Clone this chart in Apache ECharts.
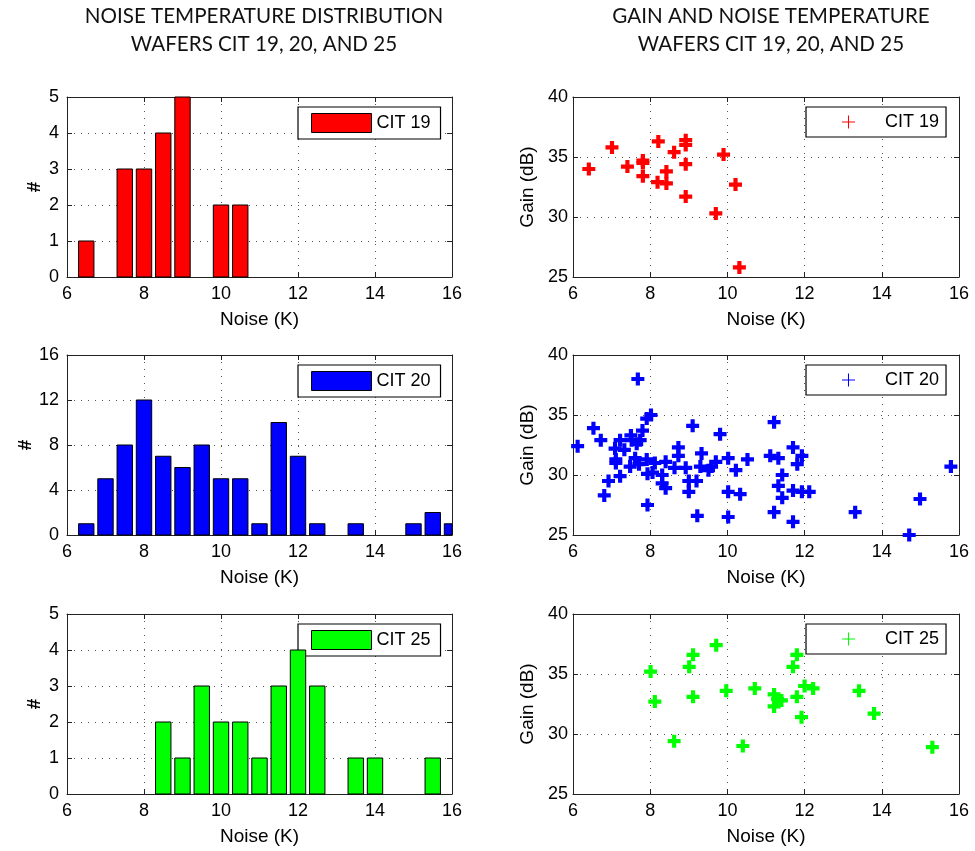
<!DOCTYPE html>
<html>
<head>
<meta charset="utf-8">
<script src="https://cdn.jsdelivr.net/npm/echarts@6/dist/echarts.min.js"></script>
<style>
  html, body { margin: 0; padding: 0; background: #fff; }
  #chart { width: 975px; height: 851px; }
</style>
</head>
<body>
<div id="chart"></div>
<script>
// histogram bin centres (K)
const binCenters = [6.5, 7, 7.5, 8, 8.5, 9, 9.5, 10, 10.5, 11, 11.5, 12, 12.5, 13, 13.5, 14, 14.5, 15, 15.5, 16];
const cit19Counts = [1, 0, 3, 3, 4, 5, 0, 2, 2, 0, 0, 0, 0, 0, 0, 0, 0, 0, 0, 0];
const cit20Counts = [1, 5, 8, 12, 7, 6, 8, 5, 5, 1, 10, 7, 1, 0, 1, 0, 0, 1, 2, 1];
const cit25Counts = [0, 0, 0, 0, 2, 1, 3, 2, 2, 1, 3, 4, 3, 0, 1, 1, 0, 0, 1, 0];
const barHalfWidth = 0.2; // K

// gain vs noise points
const cit19Noise = [6.41, 7.01, 7.41, 7.81, 7.81, 7.81, 8.21, 8.19, 8.42, 8.42, 8.62, 8.92, 8.92, 8.92, 8.92, 9.90, 9.70, 10.21, 10.31];
const cit19Gain  = [34.0, 35.8, 34.2, 34.7, 34.5, 33.4, 36.3, 32.9, 33.8, 32.8, 35.4, 36.4, 36.0, 34.4, 31.7, 35.2, 30.3, 32.7, 25.8];

const cit20Noise = [6.12, 6.53, 6.72, 6.81, 6.92, 7.22, 7.22, 7.09, 7.33, 7.11, 7.11, 7.48, 7.50, 7.52, 7.80, 7.65, 7.74, 7.61, 7.71, 7.91,
  7.91, 8.02, 7.93, 8.06, 7.93, 8.12, 8.31, 8.31, 8.40, 8.40, 8.63, 8.73, 8.73, 8.92, 9.0, 9.0, 9.10, 7.68,
  9.81, 9.33, 9.30, 9.20, 9.22, 9.51, 9.59, 9.70, 10.02, 10.02, 10.02, 10.22, 10.33, 10.52, 11.11, 11.21, 11.32, 11.42,
  11.32, 11.42, 11.21, 11.70, 11.93, 11.81, 11.70, 11.93, 12.12, 11.70, 13.31, 14.99, 14.71, 15.79];
const cit20Gain = [32.4, 33.9, 32.9, 28.3, 29.5, 29.9, 32.9, 32.2, 32.1, 31.3, 31.0, 30.7, 33.3, 32.9, 33.7, 32.6, 32.9, 31.4, 30.9, 31.3,
  34.7, 35.0, 30.1, 30.2, 27.5, 31.0, 30.0, 29.3, 28.9, 31.1, 30.6, 32.3, 31.6, 30.6, 29.5, 28.6, 34.1, 38.0,
  33.4, 31.8, 30.7, 29.5, 26.6, 30.4, 30.7, 31.1, 31.4, 28.6, 26.5, 30.4, 28.4, 31.3, 31.6, 34.4, 31.4, 30.0,
  29.1, 28.1, 26.9, 32.3, 31.6, 30.9, 28.7, 28.6, 28.6, 26.1, 26.9, 28.0, 25.0, 30.7];

const cit25Noise = [8.01, 8.12, 8.62, 9.01, 9.11, 9.11, 9.71, 9.97, 10.40, 10.71, 11.21, 11.21, 11.40, 11.30, 11.70, 11.80, 11.80, 11.92, 12.0, 12.22, 13.41, 13.80, 15.31];
const cit25Gain  = [35.2, 32.7, 29.4, 35.6, 36.6, 33.1, 37.4, 33.6, 29.0, 33.8, 33.3, 32.3, 32.8, 32.9, 35.6, 36.6, 33.1, 31.4, 34.0, 33.8, 33.6, 31.7, 28.9];

const wafers = [
  { name: 'CIT 19', color: '#ff0000', counts: cit19Counts, noise: cit19Noise, gain: cit19Gain, countMax: 5, countStep: 1 },
  { name: 'CIT 20', color: '#0000ff', counts: cit20Counts, noise: cit20Noise, gain: cit20Gain, countMax: 16, countStep: 4 },
  { name: 'CIT 25', color: '#00ff00', counts: cit25Counts, noise: cit25Noise, gain: cit25Gain, countMax: 5, countStep: 1 }
];

const FONT = 'Liberation Sans';
const rowTops = [97, 355, 614];
const plusThick = 'path://M3.4,0h3.2v3.4h3.4v3.2h-3.4v3.4h-3.2v-3.4h-3.4v-3.2h3.4z';
const plusThin = 'path://M4.6,0h0.8v4.6h4.6v0.8h-4.6v4.6h-0.8v-4.6h-4.6v-0.8h4.6z';

let chart = echarts.init(document.getElementById('chart'));

let grids = [], xAxes = [], yAxes = [], series = [], legends = [];
let mirrorX = [], mirrorY = [];

function axisBase() {
  return {
    axisLine: { show: true, onZero: false, lineStyle: { color: '#222', width: 1 } },
    axisTick: { show: true, inside: true, length: 5, lineStyle: { color: '#222' } },
    axisLabel: { color: '#000', fontFamily: FONT, fontSize: 18 },
    splitLine: { show: true, lineStyle: { color: '#555', width: 1, type: [1, 6] } },
    nameTextStyle: { color: '#000', fontFamily: FONT, fontSize: 19 }
  };
}

// histogram bars, clipped to the plot area like the original
function renderBar(params, api) {
  let c = api.value(0), n = api.value(1);
  let p0 = api.coord([c - barHalfWidth, n]);
  let p1 = api.coord([c + barHalfWidth, 0]);
  let cs = params.coordSys;
  let rect = echarts.graphic.clipRectByRect(
    { x: p0[0], y: p0[1], width: p1[0] - p0[0], height: p1[1] - p0[1] },
    { x: cs.x, y: cs.y, width: cs.width, height: cs.height }
  );
  if (!rect) return null;
  return {
    type: 'rect', shape: rect,
    style: { fill: api.visual('color'), stroke: '#000', lineWidth: 1 }
  };
}

wafers.forEach(function (w, i) {
  let top = rowTops[i];
  grids.push({ left: 67, top: top, width: 385, height: 180 });
  grids.push({ left: 573, top: top, width: 386, height: 180 });
  let gh = 2 * i, gs = 2 * i + 1;

  xAxes.push(Object.assign(axisBase(), {
    type: 'value', gridIndex: gh, min: 6, max: 16, interval: 2,
    name: 'Noise (K)', nameLocation: 'middle', nameGap: 33
  }));
  xAxes.push(Object.assign(axisBase(), {
    type: 'value', gridIndex: gs, min: 6, max: 16, interval: 2,
    name: 'Noise (K)', nameLocation: 'middle', nameGap: 33
  }));
  yAxes.push(Object.assign(axisBase(), {
    type: 'value', gridIndex: gh, min: 0, max: w.countMax, interval: w.countStep,
    name: '#', nameLocation: 'middle', nameGap: 23, nameRotate: 90
  }));
  yAxes.push(Object.assign(axisBase(), {
    type: 'value', gridIndex: gs, min: 25, max: 40, interval: 5,
    name: 'Gain (dB)', nameLocation: 'middle', nameGap: 36, nameRotate: 90
  }));
  yAxes[yAxes.length - 2].axisLabel.margin = 8;
  yAxes[yAxes.length - 1].axisLabel.margin = 5;
  yAxes[yAxes.length - 2].nameTextStyle.fontWeight = 'bold';

  // mirror axes give the closed box and inner ticks on top / right
  [gh, gs].forEach(function (g) {
    let isHist = g === gh;
    mirrorX.push({
      type: 'value', gridIndex: g, position: 'top', min: 6, max: 16, interval: 2,
      axisLine: { show: true, onZero: false, lineStyle: { color: '#222' } },
      axisTick: { show: true, inside: true, length: 5, lineStyle: { color: '#222' } },
      axisLabel: { show: false }, splitLine: { show: false }
    });
    mirrorY.push({
      type: 'value', gridIndex: g, position: 'right',
      min: isHist ? 0 : 25, max: isHist ? w.countMax : 40, interval: isHist ? w.countStep : 5,
      axisLine: { show: true, onZero: false, lineStyle: { color: '#222' } },
      axisTick: { show: true, inside: true, length: 5, lineStyle: { color: '#222' } },
      axisLabel: { show: false }, splitLine: { show: false }
    });
  });

  let histData = [];
  binCenters.forEach(function (c, k) {
    if (w.counts[k] > 0) histData.push([c, w.counts[k]]);
  });

  series.push({
    name: 'hist' + i, type: 'custom', xAxisIndex: gh, yAxisIndex: gh,
    data: histData, renderItem: renderBar,
    itemStyle: { color: w.color },
    encode: { x: 0, y: 1 }, silent: true, animation: false, z: 3
  });
  series.push({
    name: 'scat' + i, type: 'scatter', xAxisIndex: gs, yAxisIndex: gs,
    data: w.noise.map(function (x, k) { return [x, w.gain[k]]; }),
    symbol: plusThick, symbolSize: 13,
    itemStyle: { color: w.color, opacity: 1 },
    emphasis: { disabled: true }, animation: false
  });

  legends.push({
    data: ['hist' + i], left: 298, top: top + 10, z: 1,
    orient: 'horizontal', selectedMode: false,
    backgroundColor: '#fff', borderColor: '#000', borderWidth: 1.2, borderRadius: 0,
    padding: [6, 10, 6, 13],
    itemWidth: 60, itemHeight: 19, icon: 'rect',
    itemStyle: { color: w.color, borderColor: '#000', borderWidth: 1 },
    formatter: function () { return w.name; },
    textStyle: { color: '#000', fontFamily: FONT, fontSize: 18 }
  });
  legends.push({
    data: ['scat' + i], left: 806, top: top + 10, z: 1,
    orient: 'horizontal', selectedMode: false,
    backgroundColor: '#fff', borderColor: '#000', borderWidth: 1.2, borderRadius: 0,
    padding: [6, 7, 6, 36],
    itemWidth: 13, itemHeight: 13, icon: plusThin,
    formatter: function () { return w.name; },
    textStyle: { color: '#000', fontFamily: FONT, fontSize: 18, padding: [0, 0, 0, 25] }
  });
});

let option = {
  animation: false,
  backgroundColor: '#fff',
  title: [
    {
      text: 'NOISE TEMPERATURE DISTRIBUTION\nWAFERS CIT 19, 20, AND 25',
      left: 259, top: -3, textAlign: 'center',
      textStyle: { fontFamily: 'Lato', fontWeight: 'normal', fontSize: 20.6, lineHeight: 28, color: '#111' }
    },
    {
      text: 'GAIN AND NOISE TEMPERATURE\nWAFERS CIT 19, 20, AND 25',
      left: 766, top: -3, textAlign: 'center',
      textStyle: { fontFamily: 'Lato', fontWeight: 'normal', fontSize: 20.6, lineHeight: 28, color: '#111' }
    }
  ],
  grid: grids,
  xAxis: xAxes.concat(mirrorX),
  yAxis: yAxes.concat(mirrorY),
  legend: legends,
  series: series
};

chart.setOption(option);
</script>
</body>
</html>
